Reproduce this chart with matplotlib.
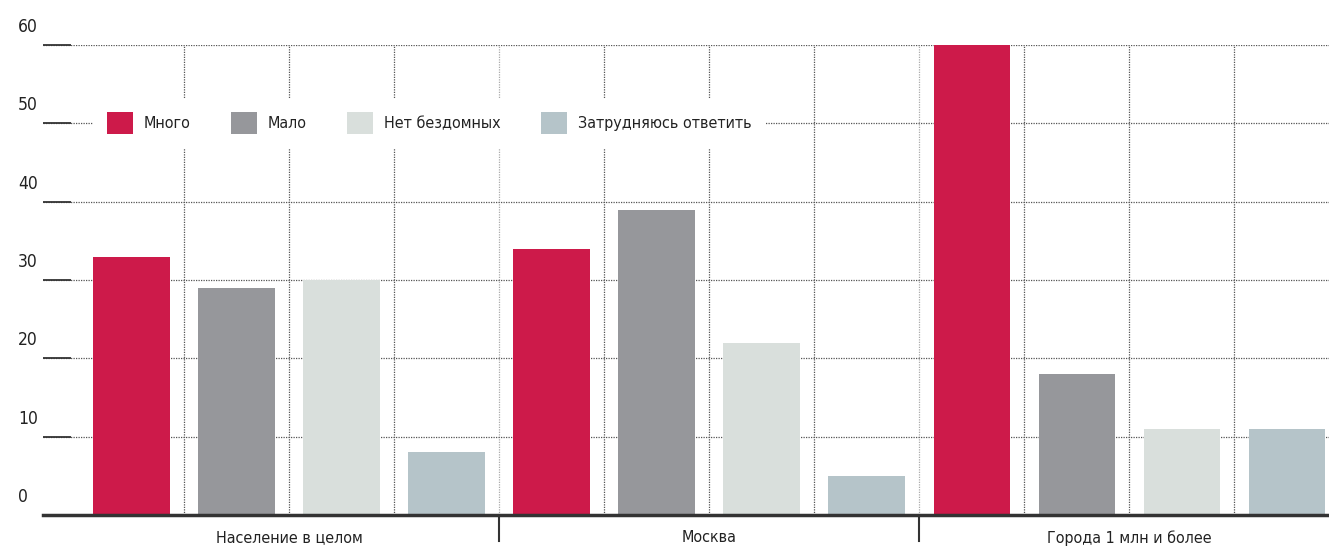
import matplotlib
matplotlib.use('Agg')
import matplotlib.pyplot as plt
import matplotlib.transforms as mtransforms
import numpy as np

plt.rcParams['font.family'] = ['DejaVu Sans']
plt.rcParams['font.stretch'] = 'condensed'

groups = ['Население в целом', 'Москва', 'Города 1 млн и более']
answers = ['Много', 'Мало', 'Нет бездомных', 'Затрудняюсь ответить']
mnogo = [33, 34, 60]
malo = [29, 39, 18]
net = [30, 22, 11]
zatr = [8, 5, 11]
colors = ['#cd1a4a', '#96979b', '#d9dfdc', '#b5c4c9']
yticks = [0, 10, 20, 30, 40, 50, 60]

series = [mnogo, malo, net, zatr]
n_ans = len(answers)

fig = plt.figure(figsize=(13.29, 5.52), dpi=100)
ax = fig.add_axes([43 / 1329, 37 / 552, 1 - 43 / 1329, 470 / 552])

for j, (vals, c, lab) in enumerate(zip(series, colors, answers)):
    x = np.arange(len(groups)) * n_ans + j
    ax.bar(x, vals, width=0.73, color=c, label=lab, zorder=2)

ax.set_xlim(-0.843, len(groups) * n_ans - 0.6)
ax.set_ylim(0, 60)

# group labels and separators
ax.xaxis.remove_overlapping_locs = False
ax.set_xticks(np.arange(len(groups)) * n_ans + (n_ans - 1) / 2)
ax.set_xticklabels(groups, fontsize=11.5, color='#222222')
ax.tick_params(axis='x', which='major', length=0, pad=11)
ax.set_xticks(np.arange(len(groups) * n_ans - 1) + 0.5, minor=True)
ax.tick_params(axis='x', which='minor', length=0)
ax.grid(axis='x', which='minor', linestyle=(0, (1, 1)), color='#555555', linewidth=0.9)
for k, t in enumerate(ax.xaxis.get_minor_ticks()):
    if k % n_ans == n_ans - 1:
        t.gridline.set_color('#aaaaaa')

# group separator marks below axis
for g in range(1, len(groups)):
    ax.plot([g * n_ans - 0.5] * 2, [0, -3.3], color='#333333', linewidth=1.5,
            clip_on=False, zorder=3)

ax.set_yticks(yticks)
ax.set_yticklabels([])
ax.tick_params(axis='y', which='major', direction='in', length=20, width=1.3,
               color='#333333', pad=0)
ax.grid(axis='y', which='major', linestyle=(0, (1, 1)), color='#555555', linewidth=0.9)
ytrans = mtransforms.blended_transform_factory(fig.transFigure, ax.transData)
for v in yticks:
    ax.text(18 / 1329, v + 2.3, str(v), transform=ytrans, fontsize=12.5,
            color='#222222', ha='left', va='center')

ax.set_axisbelow(True)
for s in ['top', 'left', 'right']:
    ax.spines[s].set_visible(False)
ax.spines['bottom'].set_linewidth(2.5)
ax.spines['bottom'].set_color('#333333')

leg = ax.legend(loc='upper left', bbox_to_anchor=(0.0389, 0.886), ncol=4, fontsize=11.5,
                frameon=True, facecolor='white', edgecolor='none', framealpha=1,
                handlelength=1.63, handleheight=1.74, handletextpad=0.7,
                columnspacing=2.5, borderpad=0.85, borderaxespad=0, fancybox=False)
for t in leg.get_texts():
    t.set_color('#222222')

fig.savefig('out.png', dpi=100)
